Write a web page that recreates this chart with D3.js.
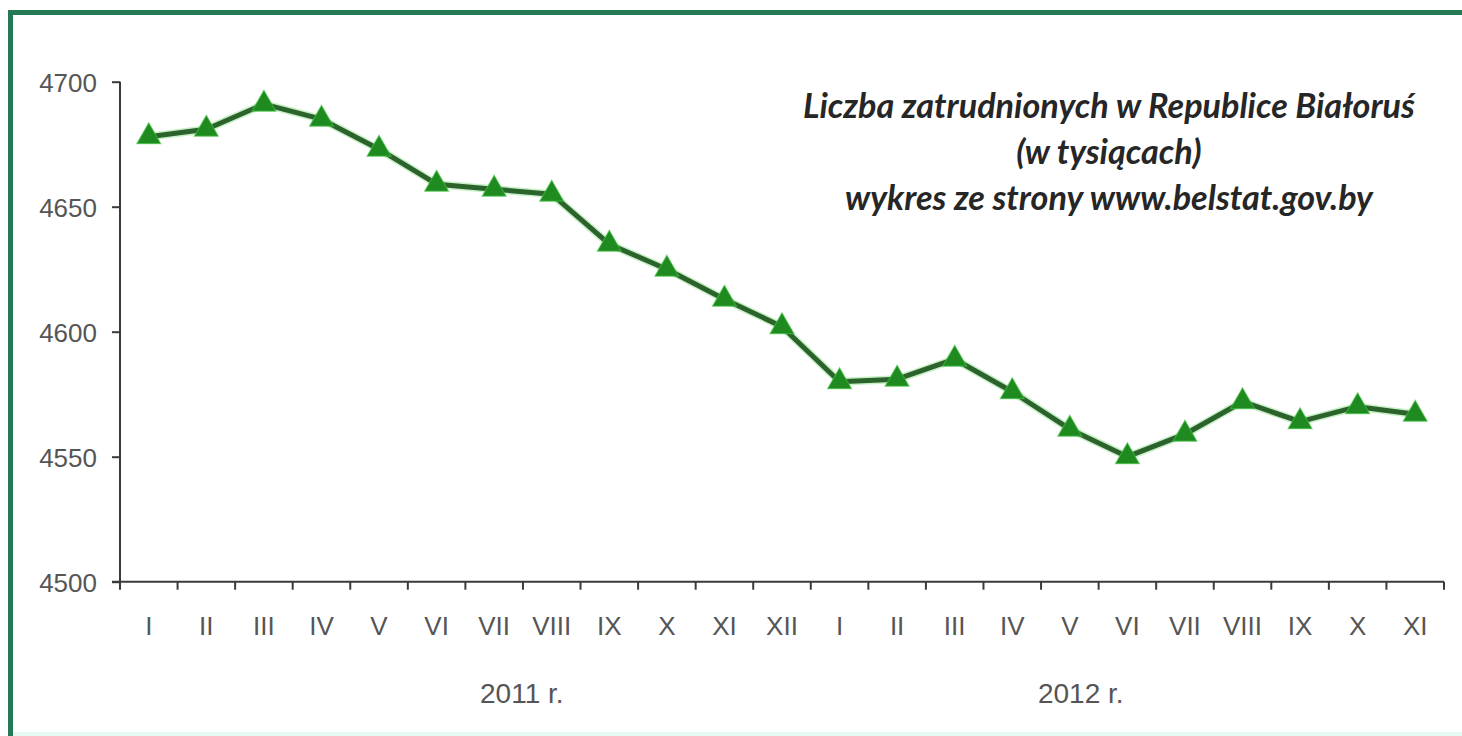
<!DOCTYPE html>
<html>
<head>
<meta charset="utf-8">
<script src="https://cdn.jsdelivr.net/npm/d3@7"></script>
<style>
  html, body { margin: 0; padding: 0; background: #ffffff; }
  svg { display: block; }
</style>
</head>
<body>
<script>
// ---- data ----
const months = ["I","II","III","IV","V","VI","VII","VIII","IX","X","XI","XII",
                "I","II","III","IV","V","VI","VII","VIII","IX","X","XI"];
const values2011 = [4678, 4681, 4691, 4685, 4673, 4659, 4657, 4655, 4635, 4625, 4613, 4602];
const values2012 = [4580, 4581, 4589, 4576, 4561, 4550, 4559, 4572, 4564, 4570, 4567];
const yTicks = [4500, 4550, 4600, 4650, 4700];
const years = ["2011 r.", "2012 r."];
const titleLines = ["Liczba zatrudnionych w Republice Białoruś", "(w tysiącach)", "wykres ze strony www.belstat.gov.by"];

(function () {
const values = values2011.concat(values2012);
const data = months.map((m, i) => ({ key: i, label: m, value: values[i] }));

const W = 1462, H = 736;
const svg = d3.select("body").append("svg").attr("width", W).attr("height", H);

// frame
svg.append("rect").attr("x", 0).attr("y", 0).attr("width", W).attr("height", H).attr("fill", "#ffffff");
svg.append("rect").attr("x", 8).attr("y", 732).attr("width", W - 8).attr("height", 4).attr("fill", "#e6fbf3");
svg.append("rect").attr("x", 8).attr("y", 10).attr("width", W - 8).attr("height", 5).attr("fill", "#237a55");
svg.append("rect").attr("x", 8).attr("y", 10).attr("width", 5).attr("height", H - 10).attr("fill", "#237a55");

const pL = 120, pR = 1444, pT = 81.7, pB = 581.7;

const x = d3.scaleBand().domain(data.map(d => d.key)).range([pL, pR]).padding(0);
const y = d3.scaleLinear().domain([4500, 4700]).range([pB, pT]);

// y axis
const yAxis = d3.axisLeft(y).tickValues(yTicks).tickSize(8).tickPadding(15).tickFormat(d3.format("d"));
const gy = svg.append("g").attr("transform", `translate(${pL},0)`).call(yAxis);
gy.select(".domain").attr("stroke", "#3a3a3a").attr("stroke-width", 2).attr("d", `M0,${pT}V${pB + 8}`);
gy.selectAll(".tick line").attr("stroke", "#3a3a3a").attr("stroke-width", 2);
gy.selectAll(".tick text").attr("fill", "#555555").style("font-family", "'Liberation Sans', Arial, sans-serif").style("font-size", "26px").attr("dy", "0.36em");

// x axis: ticks at band boundaries
const gx = svg.append("g").attr("transform", `translate(0,${pB})`);
gx.append("line").attr("x1", pL - 8).attr("x2", pR).attr("y1", 0).attr("y2", 0).attr("stroke", "#3a3a3a").attr("stroke-width", 2);
const boundaries = data.map(d => x(d.key)).concat([x(data[data.length - 1].key) + x.bandwidth()]);
gx.selectAll("line.tk").data(boundaries.slice(1)).enter().append("line").attr("class", "tk")
  .attr("x1", d => d).attr("x2", d => d).attr("y1", 0).attr("y2", 8)
  .attr("stroke", "#3a3a3a").attr("stroke-width", 2);
gx.selectAll("text.ml").data(data).enter().append("text").attr("class", "ml")
  .attr("x", d => x(d.key) + x.bandwidth() / 2).attr("y", 53)
  .attr("text-anchor", "middle").attr("fill", "#555555")
  .style("font-family", "'Liberation Sans', Arial, sans-serif").style("font-size", "26px")
  .text(d => d.label);

// year labels
const yearPos = [6.98, 16.69];
svg.selectAll("text.yr").data(years).enter().append("text").attr("class", "yr")
  .attr("x", (d, i) => pL + x.step() * yearPos[i]).attr("y", 703)
  .attr("text-anchor", "middle").attr("fill", "#555555")
  .style("font-family", "'Liberation Sans', Arial, sans-serif").style("font-size", "28px")
  .text(d => d);

// line
const line = d3.line().x(d => x(d.key) + x.bandwidth() / 2).y(d => y(d.value));
svg.append("path").datum(data).attr("d", line).attr("fill", "none")
  .attr("stroke", "#5fd45f").attr("stroke-opacity", 0.35).attr("stroke-width", 8).attr("stroke-linejoin", "round");
svg.append("path").datum(data).attr("d", line).attr("fill", "none")
  .attr("stroke", "#2c632c").attr("stroke-width", 5).attr("stroke-linejoin", "round");

// markers (triangles centered at centroid)
const tw = 24, th = 21;
const tri = `M0,${-th * 2 / 3}L${tw / 2},${th / 3}L${-tw / 2},${th / 3}Z`;
svg.selectAll("path.mk").data(data).enter().append("path").attr("class", "mk")
  .attr("d", tri)
  .attr("transform", d => `translate(${x(d.key) + x.bandwidth() / 2},${y(d.value)})`)
  .attr("fill", "#1f8a1f").attr("stroke", "#45c445").attr("stroke-width", 1.2).attr("stroke-opacity", 0.6);

// title
const tt = svg.selectAll("text.tt").data(titleLines).enter().append("text").attr("class", "tt")
  .attr("x", 1109).attr("y", (d, i) => 118 + i * 46)
  .attr("text-anchor", "middle").attr("fill", "#262626")
  .style("font-family", "Lato, 'Open Sans', sans-serif").style("font-style", "italic").style("font-weight", "bold")
  .style("font-size", "24px")
  .text(d => d);
const w0 = tt.node().getComputedTextLength();
const fs = Math.min(38, 24 * 612 / w0);
tt.style("font-size", fs + "px");
})();
</script>
</body>
</html>
